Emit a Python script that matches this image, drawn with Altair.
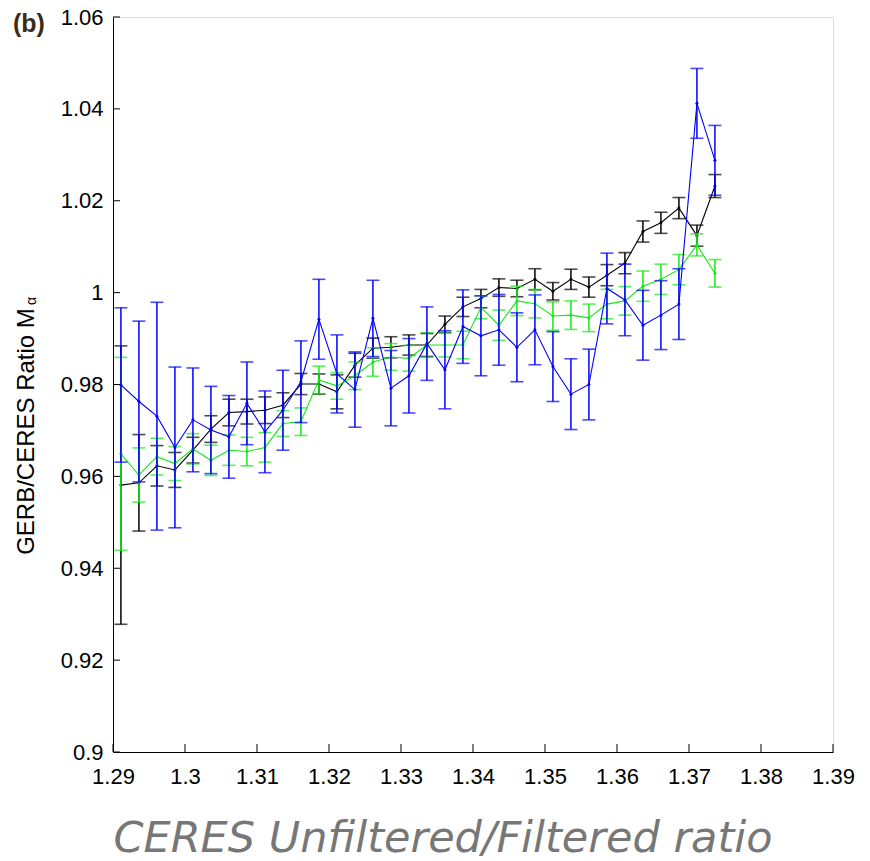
import altair as alt
import pandas as pd

# ---------------- data ----------------
x_vals = [1.2911, 1.2936, 1.2961, 1.2986, 1.3011, 1.3036, 1.3061, 1.3086, 1.3111, 1.3136,
          1.3161, 1.3186, 1.3211, 1.3236, 1.3261, 1.3286, 1.3311, 1.3336, 1.3361, 1.3386,
          1.3411, 1.3436, 1.3461, 1.3486, 1.3511, 1.3536, 1.3561, 1.3586, 1.3611, 1.3636,
          1.3661, 1.3686, 1.3711, 1.3736]

black_y = [0.9581, 0.9586, 0.9623, 0.9614, 0.9657, 0.9703, 0.9739, 0.9741, 0.9744, 0.9755,
           0.9801, 0.9801, 0.9784, 0.9842, 0.9879, 0.9881, 0.9886, 0.9886, 0.9931, 0.9969,
           0.9987, 1.0011, 1.0009, 1.0029, 1.0003, 1.0029, 1.0012, 1.0038, 1.0064, 1.0133,
           1.0152, 1.0184, 1.0124, 1.0232]
black_err = [0.0303, 0.0105, 0.0044, 0.0038, 0.0028, 0.0029, 0.0029, 0.0027, 0.0029, 0.0027,
             0.0023, 0.0022, 0.0037, 0.0026, 0.0022, 0.0023, 0.0022, 0.0025, 0.0018, 0.0021,
             0.0020, 0.0019, 0.0018, 0.0023, 0.0019, 0.0022, 0.0022, 0.0023, 0.0023, 0.0023,
             0.0023, 0.0023, 0.0023, 0.0025]

green_y = [0.9649, 0.9603, 0.9643, 0.9628, 0.9660, 0.9635, 0.9657, 0.9654, 0.9663, 0.9715,
           0.9719, 0.9810, 0.9797, 0.9819, 0.9849, 0.9860, 0.9857, 0.9886, 0.9886, 0.9886,
           0.9968, 0.9929, 0.9982, 0.9976, 0.9949, 0.9951, 0.9945, 0.9975, 0.9982, 1.0014,
           1.0029, 1.0050, 1.0104, 1.0042]
green_err = [0.0210, 0.0059, 0.0040, 0.0037, 0.0033, 0.0033, 0.0033, 0.0031, 0.0032, 0.0028,
             0.0030, 0.0030, 0.0029, 0.0030, 0.0031, 0.0029, 0.0028, 0.0027, 0.0026, 0.0030,
             0.0025, 0.0033, 0.0032, 0.0031, 0.0031, 0.0031, 0.0030, 0.0032, 0.0031, 0.0033,
             0.0033, 0.0033, 0.0024, 0.0030]

blue_y = [0.9799, 0.9763, 0.9731, 0.9663, 0.9723, 0.9701, 0.9686, 0.9759, 0.9697, 0.9744,
          0.9806, 0.9942, 0.9823, 0.9789, 0.9944, 0.9792, 0.9819, 0.9889, 0.9832, 0.9926,
          0.9906, 0.9919, 0.9881, 0.9919, 0.9839, 0.9779, 0.9800, 1.0009, 0.9984, 0.9929,
          0.9951, 0.9975, 1.0412, 1.0288]
blue_err = [0.0168, 0.0175, 0.0248, 0.0175, 0.0113, 0.0095, 0.0090, 0.0090, 0.0089, 0.0087,
            0.0089, 0.0087, 0.0085, 0.0082, 0.0083, 0.0082, 0.0081, 0.0080, 0.0085, 0.0080,
            0.0087, 0.0077, 0.0075, 0.0076, 0.0076, 0.0077, 0.0077, 0.0077, 0.0078, 0.0076,
            0.0075, 0.0077, 0.0076, 0.0076]

x_ticks = [1.29, 1.30, 1.31, 1.32, 1.33, 1.34, 1.35, 1.36, 1.37, 1.38, 1.39]
y_ticks = [0.90, 0.92, 0.94, 0.96, 0.98, 1.00, 1.02, 1.04, 1.06]

series_names = ["black", "green", "blue"]
series_colors = ["#000000", "#14ea14", "#0000ff"]
series_data = {"black": (black_y, black_err),
               "green": (green_y, green_err),
               "blue": (blue_y, blue_err)}

# ---------------- layout / style ----------------
W, H = 720, 735
label_font = "Liberation Sans Narrow, Arial Narrow, Liberation Sans, Arial"

xscale = alt.Scale(domain=[1.29, 1.39], nice=False, zero=False)
yscale = alt.Scale(domain=[0.9, 1.06], nice=False, zero=False)

xaxis = alt.Axis(values=x_ticks, format=".2~f", grid=False, tickSize=0,
                 domainColor="black", domainWidth=1,
                 labelFont=label_font, labelFontSize=22, labelColor="black",
                 labelPadding=14, labelFlush=False, labelOverlap=False,
                 title="CERES Unfiltered/Filtered ratio", titleFont="DejaVu Sans",
                 titleFontStyle="italic", titleFontWeight="normal", titleFontSize=43,
                 titleColor="#777777", titleAlign="left", titleX=0, titleY=99,
                 titleBaseline="alphabetic")

yaxis = alt.Axis(values=y_ticks, format=".2~f", grid=False, tickSize=0,
                 domainColor="black", domainWidth=1,
                 labelFont=label_font, labelFontSize=22, labelColor="black",
                 labelPadding=10, labelFlush=False, labelOverlap=False,
                 title="GERB/CERES Ratio M", titleFont="Liberation Sans",
                 titleFontWeight="normal", titleFontSize=24, titleColor="black",
                 titleAngle=270, titleAlign="center", titleBaseline="alphabetic",
                 titleX=-80, titleY=414)


def X(field):
    return alt.X(field, type="quantitative", scale=xscale, axis=xaxis)


def Y(field):
    return alt.Y(field, type="quantitative", scale=yscale, axis=yaxis)


layers = []

# inward ticks
xt = alt.Chart(pd.DataFrame({"t": x_ticks})).mark_rule(color="black", strokeWidth=1).encode(
    x=X("t"), y=alt.value(H), y2=alt.value(H - 8))
yt = alt.Chart(pd.DataFrame({"t": y_ticks})).mark_rule(color="black", strokeWidth=1).encode(
    y=Y("t"), x=alt.value(0), x2=alt.value(7))
layers += [xt, yt]

for name, color in zip(series_names, series_colors):
    yv, ev = series_data[name]
    df = pd.DataFrame({
        "x": x_vals,
        "y": yv,
        "lo": [a - b for a, b in zip(yv, ev)],
        "hi": [a + b for a, b in zip(yv, ev)],
    })
    base = alt.Chart(df)
    rule = base.mark_rule(color=color, strokeWidth=1.5).encode(x=X("x"), y=Y("lo"), y2="hi")
    cap_top = base.mark_tick(color=color, orient="horizontal", size=13, thickness=1.6).encode(
        x=X("x"), y=Y("hi"))
    cap_bot = base.mark_tick(color=color, orient="horizontal", size=13, thickness=1.6).encode(
        x=X("x"), y=Y("lo"))
    line = base.mark_line(color=color, strokeWidth=1.1).encode(x=X("x"), y=Y("y"))
    pts = base.mark_circle(color=color, size=9, opacity=1).encode(x=X("x"), y=Y("y"))
    layers += [rule, cap_top, cap_bot, line, pts]

panel_label = alt.Chart(pd.DataFrame({"t": ["(b)"]})).mark_text(
    font="Liberation Sans", fontSize=25, fontWeight="bold", color="#3a2c1a",
    align="left", baseline="alphabetic").encode(
    text="t:N", x=alt.value(-100), y=alt.value(15))
alpha_sub = alt.Chart(pd.DataFrame({"t": ["α"]})).mark_text(
    font="Liberation Sans", fontSize=14, color="black", angle=270,
    align="center", baseline="alphabetic").encode(
    text="t:N", x=alt.value(-77), y=alt.value(284))
layers += [panel_label, alpha_sub]

chart = alt.layer(*layers).properties(
    width=W, height=H,
    autosize=alt.AutoSizeParams(type="none"),
    padding={"left": 113, "top": 17, "right": 37, "bottom": 109},
).configure_view(stroke=None).configure(background="white")

chart.save("out.html", embed_options={"renderer": "svg", "actions": False})
